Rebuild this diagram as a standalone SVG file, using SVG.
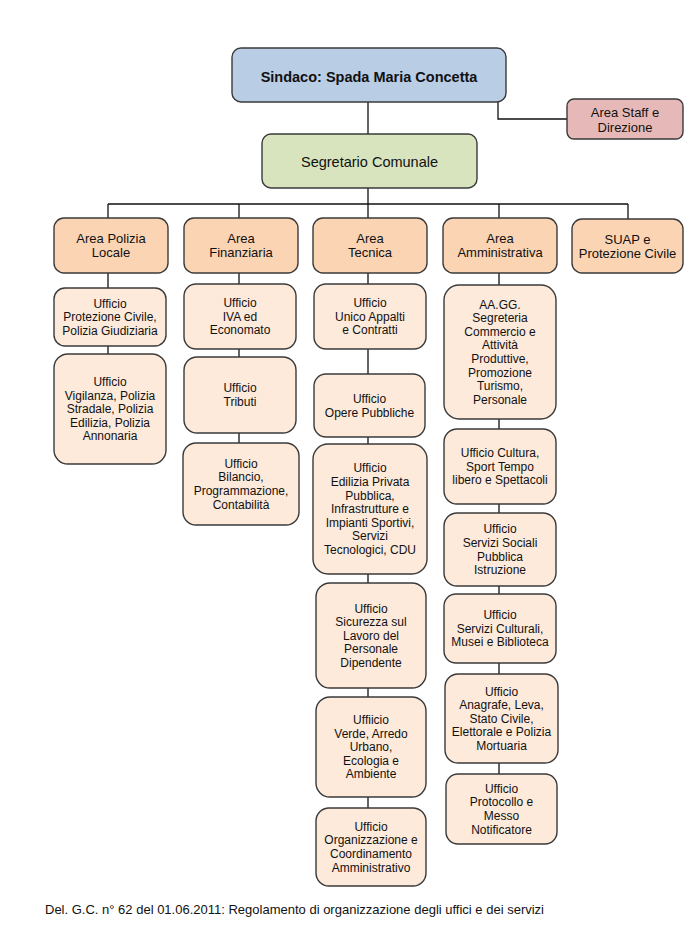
<svg xmlns="http://www.w3.org/2000/svg" width="694" height="936" viewBox="0 0 694 936">
<style>
text{font-family:"Liberation Sans",Arial,sans-serif;fill:#111;text-anchor:middle}
.box{stroke:#3a3a3a;stroke-width:1.4}
.top{fill:#b9cde5}
.staff{fill:#e6b9b8}
.seg{fill:#d7e4bd}
.area{fill:#fbd4b4}
.sub{fill:#fdeadb}
.t12{font-size:12px}
.t13{font-size:13px}
.t14{font-size:14.5px}
.b{font-weight:bold}
.ln{fill:none;stroke:#111;stroke-width:1.3}
</style>
<rect width="694" height="936" fill="#fff"/>
<g id="connectors">
<path class="ln" d="M368,102V134M498,102V119H567M368,188V204M108,204H628M108,204V218M239,204V218M368,204V218M499,204V218M628,204V219"/>
<path class="ln" d="M108,273V288M108,346V354M239,273V284M239,349V357M239,433V443M368,273V284M368,349V374M368,437V444M368,574V583M368,688V697M368,797V808M499,273V285M499,419V429M499,504V513M499,586V594M499,663V674M499,763V774"/>
</g>
<g id="sindaco"><rect class="box top" x="232" y="48" width="274" height="54" rx="9"/><text class="t14 b" x="369" y="81.5">Sindaco: Spada Maria Concetta</text></g>
<g id="staff"><rect class="box staff" x="567" y="99" width="116" height="40" rx="7"/><text class="t13" x="625" y="117">Area Staff e<tspan x="625" dy="14.5">Direzione</tspan></text></g>
<g id="segretario"><rect class="box seg" x="262" y="134" width="215" height="54" rx="9"/><text class="t14" x="369.5" y="166.5">Segretario Comunale</text></g>
<g id="area-polizia"><rect class="box area" x="54" y="218" width="114" height="55" rx="10"/><text class="t13" x="111" y="243.1">Area Polizia<tspan x="111" dy="14">Locale</tspan></text></g>
<g id="area-finanziaria"><rect class="box area" x="184" y="218" width="114" height="55" rx="10"/><text class="t13" x="241" y="243.1">Area<tspan x="241" dy="14">Finanziaria</tspan></text></g>
<g id="area-tecnica"><rect class="box area" x="313" y="218" width="114" height="55" rx="10"/><text class="t13" x="370" y="243.1">Area<tspan x="370" dy="14">Tecnica</tspan></text></g>
<g id="area-amministrativa"><rect class="box area" x="443" y="218" width="114" height="55" rx="10"/><text class="t13" x="500" y="243.1">Area<tspan x="500" dy="14">Amministrativa</tspan></text></g>
<g id="suap"><rect class="box area" x="572" y="219" width="111" height="54" rx="10"/><text class="t13" x="627.5" y="243.6">SUAP e<tspan x="627.5" dy="14">Protezione Civile</tspan></text></g>

<g id="uff-protezione"><rect class="box sub" x="54" y="288" width="112" height="58" rx="11"/><text class="t12" x="110" y="307.6">Ufficio<tspan x="110" dy="13.6">Protezione Civile,</tspan><tspan x="110" dy="13.6">Polizia Giudiziaria</tspan></text></g>
<g id="uff-vigilanza"><rect class="box sub" x="54" y="354" width="112" height="110" rx="14"/><text class="t12" x="110" y="386">Ufficio<tspan x="110" dy="13.6">Vigilanza, Polizia</tspan><tspan x="110" dy="13.6">Stradale, Polizia</tspan><tspan x="110" dy="13.6">Edilizia, Polizia</tspan><tspan x="110" dy="13.6">Annonaria</tspan></text></g>

<g id="uff-iva"><rect class="box sub" x="184" y="284" width="112" height="65" rx="12"/><text class="t12" x="240" y="307.1">Ufficio<tspan x="240" dy="13.6">IVA ed</tspan><tspan x="240" dy="13.6">Economato</tspan></text></g>
<g id="uff-tributi"><rect class="box sub" x="184" y="357" width="112" height="76" rx="13"/><text class="t12" x="240" y="392.4">Ufficio<tspan x="240" dy="13.6">Tributi</tspan></text></g>
<g id="uff-bilancio"><rect class="box sub" x="183" y="443" width="116" height="82" rx="13"/><text class="t12" x="241" y="467.8">Ufficio<tspan x="241" dy="13.6">Bilancio,</tspan><tspan x="241" dy="13.6">Programmazione,</tspan><tspan x="241" dy="13.6">Contabilità</tspan></text></g>

<g id="uff-appalti"><rect class="box sub" x="314" y="284" width="112" height="65" rx="12"/><text class="t12" x="370" y="307.1">Ufficio<tspan x="370" dy="13.6">Unico Appalti</tspan><tspan x="370" dy="13.6">e Contratti</tspan></text></g>
<g id="uff-opere"><rect class="box sub" x="314" y="374" width="111" height="63" rx="12"/><text class="t12" x="369.5" y="402.9">Ufficio<tspan x="369.5" dy="13.6">Opere Pubbliche</tspan></text></g>
<g id="uff-edilizia"><rect class="box sub" x="313" y="444" width="114" height="130" rx="15"/><text class="t12" x="370" y="472.4">Ufficio<tspan x="370" dy="13.6">Edilizia Privata</tspan><tspan x="370" dy="13.6">Pubblica,</tspan><tspan x="370" dy="13.6">Infrastrutture e</tspan><tspan x="370" dy="13.6">Impianti Sportivi,</tspan><tspan x="370" dy="13.6">Servizi</tspan><tspan x="370" dy="13.6">Tecnologici, CDU</tspan></text></g>
<g id="uff-sicurezza"><rect class="box sub" x="316" y="583" width="110" height="105" rx="14"/><text class="t12" x="371" y="612.5">Ufficio<tspan x="371" dy="13.6">Sicurezza sul</tspan><tspan x="371" dy="13.6">Lavoro del</tspan><tspan x="371" dy="13.6">Personale</tspan><tspan x="371" dy="13.6">Dipendente</tspan></text></g>
<g id="uff-verde"><rect class="box sub" x="316" y="697" width="110" height="100" rx="14"/><text class="t12" x="371" y="724">Uffiicio<tspan x="371" dy="13.6">Verde, Arredo</tspan><tspan x="371" dy="13.6">Urbano,</tspan><tspan x="371" dy="13.6">Ecologia e</tspan><tspan x="371" dy="13.6">Ambiente</tspan></text></g>
<g id="uff-organizzazione"><rect class="box sub" x="316" y="808" width="110" height="78" rx="13"/><text class="t12" x="371" y="830.8">Ufficio<tspan x="371" dy="13.6">Organizzazione e</tspan><tspan x="371" dy="13.6">Coordinamento</tspan><tspan x="371" dy="13.6">Amministrativo</tspan></text></g>

<g id="uff-aagg"><rect class="box sub" x="444" y="285" width="112" height="134" rx="15"/><text class="t12" x="500" y="308.6">AA.GG.<tspan x="500" dy="13.6">Segreteria</tspan><tspan x="500" dy="13.6">Commercio e</tspan><tspan x="500" dy="13.6">Attività</tspan><tspan x="500" dy="13.6">Produttive,</tspan><tspan x="500" dy="13.6">Promozione</tspan><tspan x="500" dy="13.6">Turismo,</tspan><tspan x="500" dy="13.6">Personale</tspan></text></g>
<g id="uff-cultura"><rect class="box sub" x="444" y="429" width="112" height="75" rx="13"/><text class="t12" x="500" y="457.1">Ufficio Cultura,<tspan x="500" dy="13.6">Sport Tempo</tspan><tspan x="500" dy="13.6">libero e Spettacoli</tspan></text></g>
<g id="uff-sociali"><rect class="box sub" x="444" y="513" width="112" height="73" rx="13"/><text class="t12" x="500" y="533.3">Ufficio<tspan x="500" dy="13.6">Servizi Sociali</tspan><tspan x="500" dy="13.6">Pubblica</tspan><tspan x="500" dy="13.6">Istruzione</tspan></text></g>
<g id="uff-culturali"><rect class="box sub" x="444" y="594" width="112" height="69" rx="12"/><text class="t12" x="500" y="619.1">Ufficio<tspan x="500" dy="13.6">Servizi Culturali,</tspan><tspan x="500" dy="13.6">Musei e Biblioteca</tspan></text></g>
<g id="uff-anagrafe"><rect class="box sub" x="445" y="674" width="113" height="89" rx="13"/><text class="t12" x="501.5" y="695.5">Ufficio<tspan x="501.5" dy="13.6">Anagrafe, Leva,</tspan><tspan x="501.5" dy="13.6">Stato Civile,</tspan><tspan x="501.5" dy="13.6">Elettorale e Polizia</tspan><tspan x="501.5" dy="13.6">Mortuaria</tspan></text></g>
<g id="uff-protocollo"><rect class="box sub" x="446" y="774" width="111" height="70" rx="12"/><text class="t12" x="501.5" y="792.8">Ufficio<tspan x="501.5" dy="13.6">Protocollo e</tspan><tspan x="501.5" dy="13.6">Messo</tspan><tspan x="501.5" dy="13.6">Notificatore</tspan></text></g>

<text class="t13" x="45" y="914" style="text-anchor:start">Del. G.C. n° 62 del 01.06.2011: Regolamento di organizzazione degli uffici e dei servizi</text>
</svg>
